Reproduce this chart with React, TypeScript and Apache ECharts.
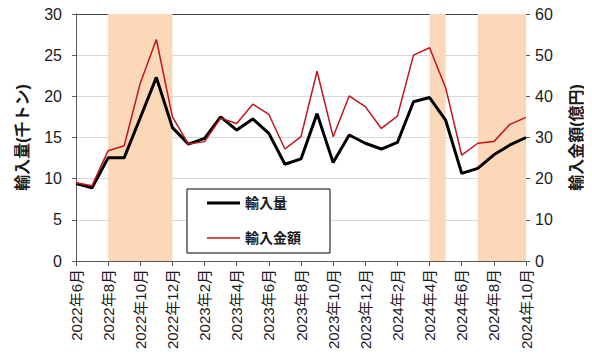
import React, { useEffect, useRef } from "react";
import * as echarts from "echarts";

const categories = [
  "2022年6月", "2022年7月", "2022年8月", "2022年9月", "2022年10月", "2022年11月", "2022年12月",
  "2023年1月", "2023年2月", "2023年3月", "2023年4月", "2023年5月", "2023年6月", "2023年7月",
  "2023年8月", "2023年9月", "2023年10月", "2023年11月", "2023年12月",
  "2024年1月", "2024年2月", "2024年3月", "2024年4月", "2024年5月", "2024年6月", "2024年7月",
  "2024年8月", "2024年9月", "2024年10月",
];

// 輸入量 (千トン) - left axis
const volume = [
  9.4, 8.9, 12.55, 12.55, 17.4, 22.3, 16.2, 14.2, 14.9, 17.5, 15.9, 17.25, 15.5, 11.75,
  12.4, 17.9, 11.95, 15.3, 14.3, 13.6, 14.4, 19.35, 19.85, 17.1, 10.65, 11.25, 12.9, 14.1, 15.0,
];

// 輸入金額 (億円) - right axis
const amount = [
  19.0, 18.3, 26.8, 28.0, 43.2, 53.8, 35.0, 28.4, 29.0, 34.7, 33.4, 38.1, 35.6, 27.2,
  30.2, 46.1, 30.2, 40.1, 37.5, 32.2, 35.2, 50.0, 51.8, 42.1, 25.7, 28.6, 29.0, 33.2, 34.9,
];

const shadedPeriods = [
  ["2022年8月", "2022年12月"],
  ["2024年4月", "2024年5月"],
  ["2024年7月", "2024年10月"],
];

const leftTicks = { min: 0, max: 30, interval: 5 };
const rightTicks = { min: 0, max: 60, interval: 10 };

const FONT = '"Liberation Sans", "Noto Sans CJK JP", sans-serif';
const TXT = "#1a1a1a";
const RED = "#c0141e";

export default function App() {
  const ref = useRef<HTMLDivElement>(null);
  useEffect(() => {
    if (!ref.current) return;
    const chart = echarts.init(ref.current, null, { renderer: "svg" });
    chart.setOption({
      animation: false,
      textStyle: { fontFamily: FONT },
      grid: { left: 76, right: 63, top: 14, bottom: 100, containLabel: false },
      legend: {
        orient: "vertical",
        left: 187,
        top: 189,
        padding: [7, 29, 8, 20],
        itemWidth: 33,
        itemHeight: 14,
        itemGap: 21,
        symbolKeepAspect: true,
        backgroundColor: "#fff",
        borderColor: "#000",
        borderWidth: 1,
        textStyle: { fontSize: 14, fontWeight: "bold", color: TXT, fontFamily: FONT },
        data: [
          { name: "輸入量", icon: "path://M0 0H33V3H0Z", itemStyle: { color: "#000" } },
          { name: "輸入金額", icon: "path://M0 0H33V1.5H0Z", itemStyle: { color: RED } },
        ],
      },
      xAxis: {
        type: "category",
        data: categories,
        boundaryGap: false,
        axisLine: { lineStyle: { color: "#595959", width: 1 } },
        axisTick: { interval: 1, length: 5, lineStyle: { color: "#595959" } },
        axisLabel: {
          interval: 1,
          rotate: 90,
          fontSize: 15,
          color: TXT,
          margin: 8,
          fontFamily: FONT,
        },
        splitLine: { show: false },
      },
      yAxis: [
        {
          type: "value",
          ...leftTicks,
          name: "輸入量(千トン)",
          nameLocation: "middle",
          nameRotate: 90,
          nameGap: 46,
          nameTextStyle: { fontSize: 16, fontWeight: "bold", color: TXT, fontFamily: FONT },
          axisLine: { show: true, lineStyle: { color: "#595959" } },
          axisTick: { show: true, length: 4, lineStyle: { color: "#595959" } },
          axisLabel: { fontSize: 16, color: TXT, margin: 14, fontFamily: FONT },
          splitLine: {
            show: true,
            lineStyle: {
              color: ["#d9d9d9", "#d9d9d9", "#d9d9d9", "#d9d9d9", "#d9d9d9", "#d9d9d9", "#404040"],
              width: 1,
            },
          },
        },
        {
          type: "value",
          ...rightTicks,
          name: "輸入金額(億円)",
          nameLocation: "middle",
          nameRotate: 90,
          nameGap: 42,
          nameTextStyle: { fontSize: 16, fontWeight: "bold", color: TXT, fontFamily: FONT },
          axisLine: { show: false },
          axisTick: { show: true, length: 4, lineStyle: { color: "#595959" } },
          axisLabel: { fontSize: 16, color: TXT, margin: 9, fontFamily: FONT },
          splitLine: { show: false },
        },
      ],
      series: [
        {
          name: "輸入量",
          type: "line",
          yAxisIndex: 0,
          data: volume,
          symbol: "none",
          z: 3,
          lineStyle: { color: "#000", width: 3 },
          itemStyle: { color: "#000" },
          markArea: {
            silent: true,
            itemStyle: { color: "#fbd8b7", opacity: 1 },
            data: shadedPeriods.map(([a, b]) => [{ xAxis: a }, { xAxis: b }]),
          },
        },
        {
          name: "輸入金額",
          type: "line",
          yAxisIndex: 1,
          data: amount,
          symbol: "none",
          z: 4,
          lineStyle: { color: RED, width: 1.5 },
          itemStyle: { color: RED },
        },
      ],
    });
    return () => chart.dispose();
  }, []);
  return <div ref={ref} style={{ width: 592, height: 361, marginLeft: -8, marginTop: -8 }} />;
}
